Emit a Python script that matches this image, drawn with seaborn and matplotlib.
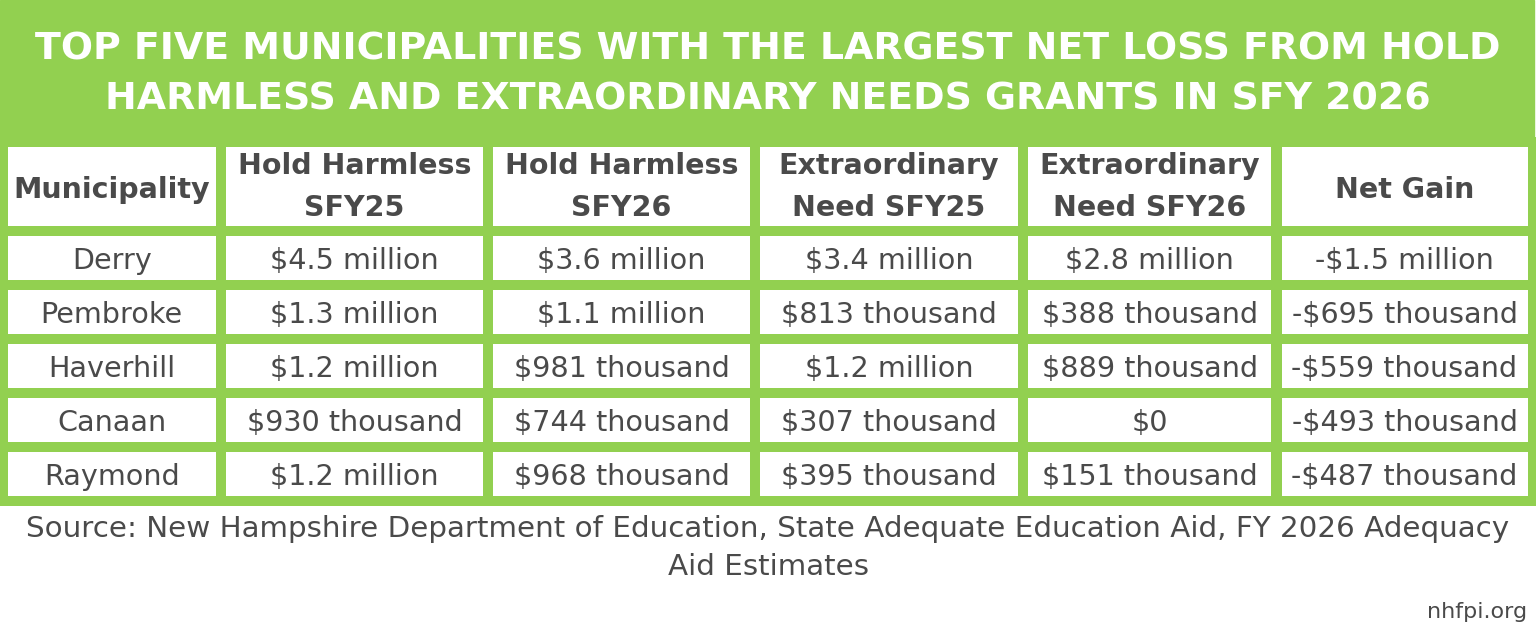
import matplotlib
matplotlib.use("Agg")
import matplotlib.pyplot as plt
import seaborn as sns
from matplotlib.patches import Rectangle

# table contents
headers = ["Municipality", "Hold Harmless\nSFY25", "Hold Harmless\nSFY26",
           "Extraordinary\nNeed SFY25", "Extraordinary\nNeed SFY26", "Net Gain"]
municipalities = ["Derry", "Pembroke", "Haverhill", "Canaan", "Raymond"]
hold_harmless_sfy25 = ["$4.5 million", "$1.3 million", "$1.2 million", "$930 thousand", "$1.2 million"]
hold_harmless_sfy26 = ["$3.6 million", "$1.1 million", "$981 thousand", "$744 thousand", "$968 thousand"]
extra_need_sfy25 = ["$3.4 million", "$813 thousand", "$1.2 million", "$307 thousand", "$395 thousand"]
extra_need_sfy26 = ["$2.8 million", "$388 thousand", "$889 thousand", "$0", "$151 thousand"]
net_gain = ["-$1.5 million", "-$695 thousand", "-$559 thousand", "-$493 thousand", "-$487 thousand"]

title_lines = ["TOP FIVE MUNICIPALITIES WITH THE LARGEST NET LOSS FROM HOLD",
               "HARMLESS AND EXTRAORDINARY NEEDS GRANTS IN SFY 2026"]
source_lines = ["Source: New Hampshire Department of Education, State Adequate Education Aid, FY 2026 Adequacy",
                "Aid Estimates"]
credit = "nhfpi.org"

GREEN = "#92d050"
TEXT = "#4a4a4a"

sns.set_theme(style="white")
plt.rcParams["font.family"] = ["DejaVu Sans"]

W, H = 1536, 641
fig = plt.figure(figsize=(W / 100, H / 100), dpi=100)
fig.patch.set_facecolor("white")

# green banner behind title and table
fig.add_artist(Rectangle((0, 1 - 503 / H), 1534 / W, 503 / H,
                         transform=fig.transFigure, color=GREEN, zorder=0))

# title
for line, base in zip(title_lines, [59, 110]):
    fig.text(0.5, 1 - base / H, line, ha="center", va="baseline",
             color="white", fontsize=27.3, fontweight="bold")

# table area (pixel layout)
left, right, top, bottom = 2.5, 1532.5, 142, 501
ax = fig.add_axes([left / W, 1 - bottom / H, (right - left) / W, (bottom - top) / H])
ax.axis("off")

col_edges = [2.5, 221, 488, 755, 1023, 1276.5, 1532.5]
col_widths = [(b - a) / (right - left) for a, b in zip(col_edges[:-1], col_edges[1:])]

rows = list(zip(municipalities, hold_harmless_sfy25, hold_harmless_sfy26,
                extra_need_sfy25, extra_need_sfy26, net_gain))

tbl = ax.table(cellText=rows, colLabels=headers, colWidths=col_widths,
               cellLoc="center", bbox=[0, 0, 1, 1])
tbl.auto_set_font_size(False)

for (r, c), cell in tbl.get_celld().items():
    cell.set_facecolor("white")
    cell.set_edgecolor(GREEN)
    cell.set_linewidth(7.2)
    cell.set_height(89.5 if r == 0 else 53.9)
    txt = cell.get_text()
    txt.set_color(TEXT)
    if r == 0:
        txt.set_fontsize(20.5)
        txt.set_fontweight("bold")
        txt.set_linespacing(1.62)
        if "\n" not in txt.get_text():
            txt.set_va("center_baseline")
    else:
        txt.set_fontsize(20.6)
        txt.set_va("center_baseline")

# source and credit
for line, base in zip(source_lines, [537, 575]):
    fig.text(0.5, 1 - base / H, line, ha="center", va="baseline",
             color=TEXT, fontsize=21.2)
fig.text(1527 / W, 1 - 618 / H, credit, ha="right", va="baseline",
         color=TEXT, fontsize=16)

fig.savefig("out.png", dpi=100, facecolor="white")
